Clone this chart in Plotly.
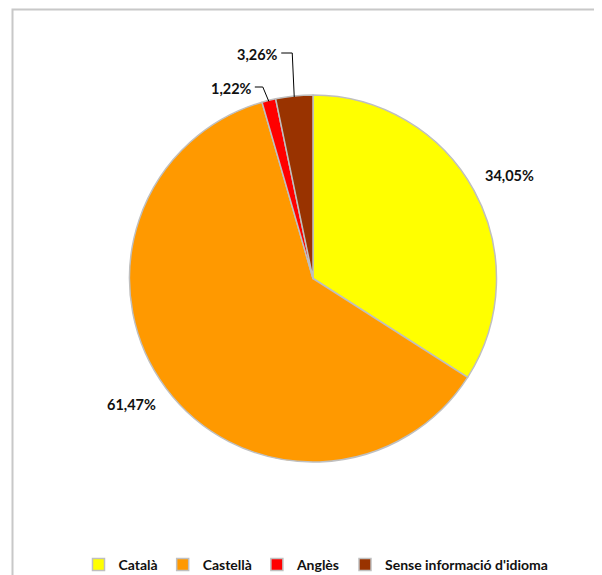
import math
import plotly.graph_objects as go

# ---- data ----
categories = ["Català", "Castellà", "Anglès", "Sense informació d'idioma"]
values = [34.05, 61.47, 1.22, 3.26]
label_texts = ["34,05%", "61,47%", "1,22%", "3,26%"]
colors = ["#FFFF00", "#FF9900", "#FF0000", "#993300"]

# the page body adds an 8px margin, so the figure is drawn 8px smaller
OFF = 8
W, H = 602 - OFF, 575 - OFF
FONT = "Lato"
LABEL_FONT = dict(family=FONT, size=14.5, color="#111111", weight="bold")

# pie geometry (window pixels)
CX, CY, R = 313, 278.5, 183.5
cx, cy = CX - OFF, CY - OFF
dom_x = [(cx - R) / W, (cx + R) / W]
dom_y = [(H - cy - R) / H, (H - cy + R) / H]

fig = go.Figure()
fig.add_trace(go.Pie(
    labels=categories,
    values=values,
    textinfo="none",
    sort=False,
    direction="clockwise",
    rotation=0,
    marker=dict(colors=colors, line=dict(color="#BFBFBF", width=1.5)),
    domain=dict(x=dom_x, y=dom_y),
    hoverinfo="label+percent",
))


def px(x):
    return (x - OFF) / W


def py(y):
    return 1 - (y - OFF) / H


# slice mid-angles (clockwise from 12 o'clock)
total = sum(values)
cum = 0.0
mids = []
for v in values:
    mids.append((cum + v / 2) / total * 2 * math.pi)
    cum += v

shapes = []
annotations = []

# large slices: label corner placed just outside the rim on the mid-angle ray
GAP = 10
for i in (0, 1):
    a = mids[i]
    lx = CX + (R + GAP) * math.sin(a)
    ly = CY - (R + GAP) * math.cos(a)
    annotations.append(dict(
        x=px(lx), y=py(ly), xref="paper", yref="paper",
        text=label_texts[i], showarrow=False,
        xanchor="left" if math.sin(a) >= 0 else "right",
        yanchor="bottom" if math.cos(a) >= 0 else "top",
        font=LABEL_FONT,
    ))

# small slices: elbow leader lines from the slice rim
# (elbow dx from rim point, elbow y, text gap) in window px
small_style = {2: (-6, 87, 9), 3: (-2, 53, 12)}
for i, (dx, ey_elbow, gap) in small_style.items():
    a = mids[i]
    ex = CX + R * math.sin(a)
    ey = CY - R * math.cos(a)
    elx = ex + dx
    tx = elx - gap
    shapes.append(dict(
        type="path", xref="paper", yref="paper",
        path=f"M {px(tx+1)},{py(ey_elbow)} L {px(elx)},{py(ey_elbow)} L {px(ex)},{py(ey+1)}",
        line=dict(color="#000000", width=1),
    ))
    annotations.append(dict(
        x=px(tx), y=py(ey_elbow + 1.5), xref="paper", yref="paper",
        text=label_texts[i], showarrow=False, xanchor="right", yanchor="middle",
        font=LABEL_FONT,
    ))

# outer chart border
shapes.append(dict(
    type="rect", xref="paper", yref="paper",
    x0=px(12.5), x1=1.1, y0=-0.1, y1=py(9.5),
    line=dict(color="#C8C8C8", width=2), fillcolor="rgba(0,0,0,0)", layer="below",
))

fig.update_layout(
    width=W, height=H,
    margin=dict(l=0, r=0, t=0, b=0, autoexpand=False),
    paper_bgcolor="white", plot_bgcolor="white",
    showlegend=True,
    legend=dict(
        orientation="h", x=px(316), xanchor="center",
        y=py(565), yanchor="middle",
        font=dict(family=FONT, size=14, color="#111111", weight="bold"),
        itemwidth=30, tracegroupgap=0, bgcolor="rgba(0,0,0,0)",
    ),
    shapes=shapes,
    annotations=annotations,
)

fig.write_html("out.html")
